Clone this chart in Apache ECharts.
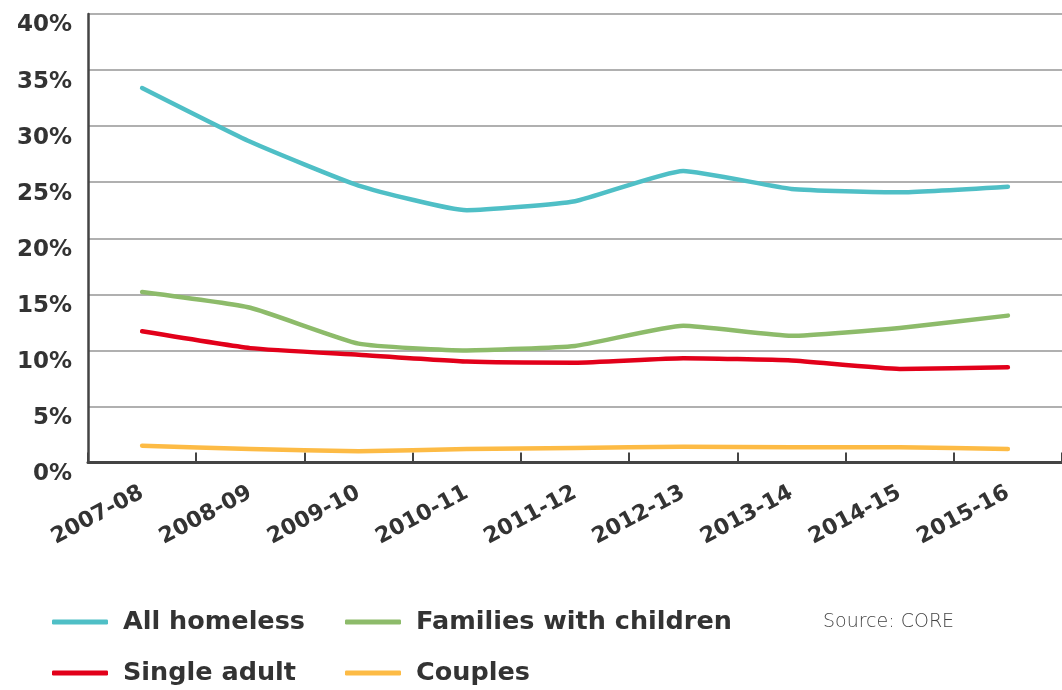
<!DOCTYPE html>
<html>
<head>
<meta charset="utf-8">
<script src="https://cdn.jsdelivr.net/npm/echarts@6/dist/echarts.min.js"></script>
<style>html,body{margin:0;padding:0;background:#fff}#c{width:1062px;height:690px}</style>
</head>
<body>
<div id="c"></div>
<script>
const categories = ['2007-08','2008-09','2009-10','2010-11','2011-12','2012-13','2013-14','2014-15','2015-16'];
const allHomeless = [33.4, 28.6, 24.7, 22.5, 23.3, 26.0, 24.4, 24.1, 24.6];
const families = [15.2, 13.8, 10.6, 10.0, 10.4, 12.2, 11.3, 12.0, 13.1];
const singleAdult = [11.7, 10.2, 9.6, 9.0, 8.9, 9.3, 9.1, 8.35, 8.5];
const couples = [1.5, 1.2, 1.0, 1.2, 1.3, 1.4, 1.35, 1.35, 1.2];
const yTicks = {min: 0, max: 40, interval: 5};

const FONT = '"DejaVu Sans"';
const chart = echarts.init(document.getElementById('c'), null, {renderer: 'canvas'});
function line(name, data, color) {
  return {
    name, type: 'line', data, symbol: 'none', smooth: 0.15,
    lineStyle: {color, width: 4.5, cap: 'round', join: 'round'},
    itemStyle: {color}
  };
}
function leg(name, left, top) {
  return {
    data: [name], left, top, orient: 'horizontal', padding: 0,
    itemWidth: 56, itemHeight: 5, icon: 'roundRect',
    textStyle: {fontFamily: FONT, fontWeight: 'bold', fontSize: 25.5, color: '#333', padding: [0,0,0,10]}
  };
}
chart.setOption({
  animation: false,
  grid: {left: 88, top: 14, width: 978, height: 448.5, containLabel: false},
  xAxis: {
    type: 'category', data: categories, boundaryGap: true,
    axisLine: {lineStyle: {color: '#444', width: 3}},
    axisTick: {show: true, inside: true, length: 10, lineStyle: {color: '#444', width: 2}},
    axisLabel: {rotate: 28, margin: 29, fontFamily: FONT, fontWeight: 'bold', fontSize: 22, color: '#333'}
  },
  yAxis: {
    type: 'value', min: yTicks.min, max: yTicks.max, interval: yTicks.interval,
    axisLine: {show: true, lineStyle: {color: '#444', width: 2.5}},
    axisTick: {show: false},
    splitLine: {lineStyle: {color: '#b0b0b0', width: 2}},
    axisLabel: {formatter: '{value}%', margin: 16, fontFamily: FONT, fontWeight: 'bold', fontSize: 23, color: '#333', verticalAlign: 'top'}
  },
  legend: [
    leg('All homeless', 52, 609),
    leg('Families with children', 345, 609),
    leg('Single adult', 52, 660),
    leg('Couples', 345, 660)
  ],
  title: {text: 'Source: CORE', left: 818, top: 608,
    textStyle: {fontFamily: FONT, fontWeight: 300, fontSize: 19, color: '#444'}},
  series: [
    line('All homeless', allHomeless, '#4fbfc6'),
    line('Families with children', families, '#8dbb6a'),
    line('Single adult', singleAdult, '#e2001a'),
    line('Couples', couples, '#fdbb45')
  ]
});
</script>
</body>
</html>
